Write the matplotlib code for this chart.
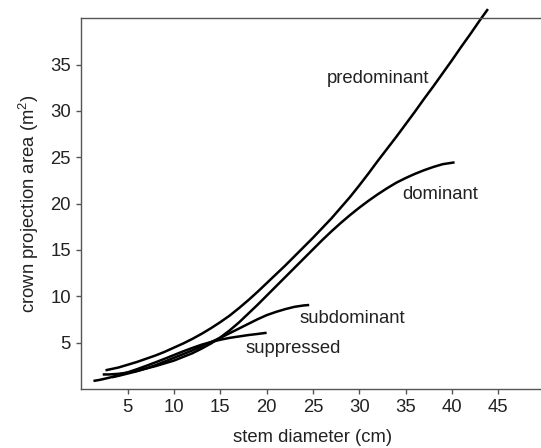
import matplotlib
matplotlib.use('Agg')
import matplotlib.pyplot as plt

plt.rcParams['font.family'] = ['Liberation Sans', 'DejaVu Sans']
plt.rcParams['mathtext.fontset'] = 'custom'
plt.rcParams['mathtext.rm'] = 'Liberation Sans'

# curves (stem diameter in cm, crown area in m2)
pred_x = [2.6, 4, 5, 6, 7, 8, 9, 10, 11, 12, 13, 14, 15, 16, 17, 18, 19, 20, 21, 22,
          23, 24, 25, 26, 27, 28, 29, 30, 31, 32, 33, 34, 35, 36, 37, 38, 39, 40, 41, 42, 43, 43.9]
pred_y = [2.0, 2.3, 2.6, 2.9, 3.25, 3.6, 4.0, 4.45, 4.9, 5.4, 5.95, 6.55, 7.2, 7.9, 8.7, 9.55,
          10.45, 11.4, 12.35, 13.3, 14.3, 15.3, 16.3, 17.35, 18.4, 19.55, 20.7, 21.95, 23.25,
          24.6, 25.9, 27.2, 28.55, 29.9, 31.3, 32.65, 34.05, 35.45, 36.9, 38.3, 39.75, 41.0]

dom_x = [2.3, 3, 4, 5, 6, 7, 8, 9, 10, 11, 12, 13, 14, 15, 16, 17, 18, 19, 20, 21,
         22, 23, 24, 25, 26, 27, 28, 29, 30, 31, 32, 33, 34, 35, 36, 37, 38, 39, 40.3]
dom_y = [1.55, 1.55, 1.62, 1.75, 1.95, 2.2, 2.45, 2.75, 3.05, 3.45, 3.85, 4.35, 4.9, 5.55,
         6.3, 7.15, 8.1, 9.05, 10.05, 11.05, 12.05, 13.05, 14.05, 15.05, 16.05, 17.0, 17.9,
         18.75, 19.55, 20.3, 21.0, 21.65, 22.25, 22.75, 23.2, 23.6, 23.95, 24.25, 24.45]

sub_x = [3.3, 4, 5, 6, 7, 8, 9, 10, 11, 12, 13, 14, 15, 16, 17, 18, 19, 20, 21, 22, 23, 24, 24.6]
sub_y = [1.25, 1.4, 1.65, 1.9, 2.2, 2.55, 2.95, 3.35, 3.75, 4.15, 4.6, 5.05, 5.5, 6.0, 6.5,
         7.0, 7.5, 7.95, 8.3, 8.6, 8.85, 9.0, 9.05]

sup_x = [1.3, 2, 3, 4, 5, 6, 7, 8, 9, 10, 11, 12, 13, 14, 15, 16, 17, 18, 19, 20]
sup_y = [0.85, 0.97, 1.2, 1.47, 1.78, 2.12, 2.48, 2.86, 3.25, 3.65, 4.05, 4.42, 4.77, 5.05, 5.3,
         5.5, 5.65, 5.8, 5.92, 6.05]

labels = ['predominant', 'dominant', 'subdominant', 'suppressed']
label_x = [26.5, 34.6, 23.6, 17.7]
label_y = [33.5, 21.0, 7.6, 4.4]

xticks = [5, 10, 15, 20, 25, 30, 35, 40, 45]
yticks = [5, 10, 15, 20, 25, 30, 35]

fig = plt.figure(figsize=(5.41, 4.48), dpi=100)
ax = fig.add_axes([0.1505, 0.1321, 0.8558, 0.827])

for xs, ys in [(pred_x, pred_y), (dom_x, dom_y), (sub_x, sub_y), (sup_x, sup_y)]:
    ax.plot(xs, ys, color='black', lw=1.8, clip_on=False, solid_capstyle='butt')

for t, lx, ly in zip(labels, label_x, label_y):
    ax.text(lx, ly, t, fontsize=13.3, color='#222222', ha='left', va='center')

ax.set_xlim(0, 50)
ax.set_ylim(0, 40)
ax.set_xticks(xticks)
ax.set_yticks(yticks)
ax.tick_params(direction='out', length=3.5, width=1, color='#555555',
               labelsize=13.3, labelcolor='#222222', pad=4)
for s in ax.spines.values():
    s.set_color('#555555')
    s.set_linewidth(1.0)

ax.set_xlabel('stem diameter (cm)', fontsize=13.3, color='#222222', labelpad=9)
ax.set_ylabel('crown projection area (m$^{2}$)', fontsize=13.3, color='#222222', labelpad=7)

fig.savefig('out.png', dpi=100)
